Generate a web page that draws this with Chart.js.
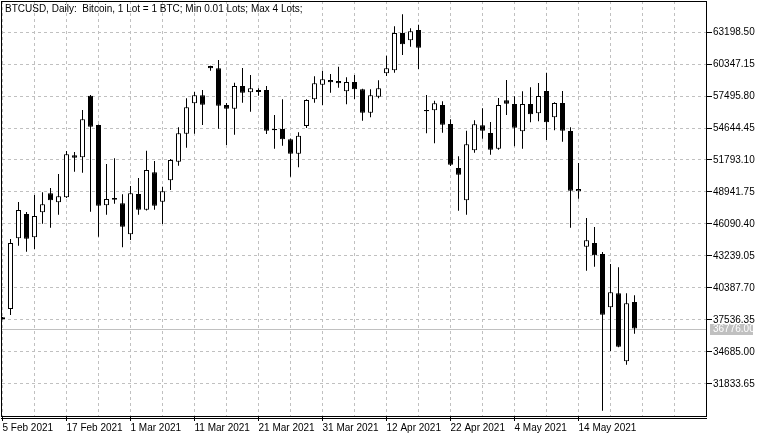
<!DOCTYPE html>
<html>
<head>
<meta charset="utf-8">
<script src="https://cdn.jsdelivr.net/npm/chart.js@4.4.1/dist/chart.umd.min.js"></script>
<style>
    html, body { margin: 0; padding: 0; background: #fff; }
</style>
</head>
<body>
<canvas id="btcChart" width="765" height="439"></canvas>
<script>
// BTCUSD daily candles
const dateLabels = ['5 Feb 2021', '17 Feb 2021', '1 Mar 2021', '11 Mar 2021', '21 Mar 2021',
    '31 Mar 2021', '12 Apr 2021', '22 Apr 2021', '4 May 2021', '14 May 2021'];

const opens = [37600, 38518, 44817, 46983, 44907, 47134, 48827, 48025, 48471, 52213,
    52035, 57523, 54912, 47758, 48408, 47936, 45174, 48765, 47366, 50698,
    48079, 49985, 51643, 54137, 56846, 57559, 60169, 59964, 56694, 56365,
    58387, 57826, 57853, 58031, 54556, 54556, 53638, 52355, 54823, 57202,
    58503, 58922, 58833, 57915, 58744, 58093, 56008, 57434, 59519, 59786,
    63110, 62459, 63377, 56249, 56222, 56694, 55002, 51081, 48203, 52658,
    54886, 54200, 52801, 57113, 56784, 54351, 56784, 55955, 57942, 55599,
    56873, 54378, 49005, 44069, 44399, 43419, 38670, 39917, 33858, 39142];
const highs = [37800, 44755, 48052, 47161, 48675, 48916, 49299, 50547, 52596, 52507,
    56249, 57586, 54950, 51438, 51945, 48738, 49477, 50190, 52623, 51705,
    49415, 51883, 54708, 57291, 57853, 58031, 60200, 60704, 56873, 58681,
    59991, 59367, 58182, 58387, 55803, 57202, 53700, 54262, 57200, 59252,
    59751, 59457, 60107, 59163, 59367, 58150, 58093, 58895, 61087, 63707,
    64776, 63528, 63849, 57586, 57078, 57024, 55420, 52124, 54405, 55331,
    56400, 55180, 57318, 58922, 57469, 57915, 58272, 58655, 59572, 56950,
    57942, 54708, 51527, 46626, 45824, 43597, 42528, 42234, 39917, 39739];
const lows = [37580, 37984, 44158, 43624, 43864, 46118, 45762, 46920, 48400, 50752,
    50662, 47188, 44960, 46920, 47900, 44016, 44666, 46920, 47300, 47366,
    46092, 49121, 51286, 52890, 54137, 54912, 59751, 54583, 53130, 54048,
    56899, 56097, 57523, 54111, 52801, 53068, 50306, 51144, 54645, 56899,
    56694, 57790, 58236, 56757, 57229, 55296, 55599, 57291, 59278, 59572,
    61149, 61889, 59902, 54173, 53282, 54226, 51259, 47277, 46920, 52444,
    53692, 52266, 52712, 55803, 53015, 52801, 55153, 55242, 53576, 54440,
    53424, 45762, 48346, 41931, 42287, 29457, 34776, 35100, 33555, 36317];
const closes = [37780, 44399, 47339, 44782, 46804, 47847, 48203, 48560, 52302, 51999,
    55420, 54761, 47722, 48319, 48257, 45851, 48827, 47366, 50903, 47722,
    49005, 51794, 54173, 56490, 57559, 56721, 59964, 56632, 56365, 58387,
    57790, 58182, 58031, 54404, 54440, 53638, 52355, 53959, 57140, 58628,
    58984, 58717, 58628, 58744, 58093, 56008, 57559, 58182, 59964, 63110,
    62103, 63261, 61800, 56133, 56846, 54939, 51375, 50484, 53193, 54975,
    54404, 52712, 56694, 56810, 54672, 56784, 55866, 57496, 55153, 56873,
    54404, 49058, 49210, 44639, 43303, 38010, 40006, 35159, 39026, 36776];

const priceTicks = [31833.65, 34685.00, 37536.35, 40387.70, 43239.05, 46090.40,
    48941.75, 51793.10, 54644.45, 57495.80, 60347.15, 63198.50];
const lastPrice = 36776.00;
const headerText = 'BTCUSD, Daily:  Bitcoin, 1 Lot = 1 BTC; Min 0.01 Lots; Max 4 Lots;';

const FONT = 'Liberation Sans';

const bodies = opens.map((o, i) => ({ x: i, y: [o, closes[i]] }));
const wicks = lows.map((l, i) => ({ x: i, y: [l, highs[i]] }));
const bodyColors = opens.map((o, i) => closes[i] >= o ? '#ffffff' : '#000000');

// frame, header, current price line and its label
const terminalLook = {
    id: 'terminalLook',
    beforeDatasetsDraw(chart) {
        const c = chart.ctx;
        const a = chart.chartArea;
        const y = Math.round(chart.scales.y.getPixelForValue(lastPrice)) + 0.5;
        c.save();
        c.strokeStyle = '#c0c0c0';
        c.lineWidth = 1;
        c.beginPath();
        c.moveTo(a.left, y);
        c.lineTo(a.right, y);
        c.stroke();
        c.restore();
    },
    afterDraw(chart) {
        const c = chart.ctx;
        const a = chart.chartArea;
        c.save();
        c.strokeStyle = '#000';
        c.lineWidth = 1;
        c.strokeRect(a.left - 0.5, a.top + 0.5, a.right - a.left, a.bottom - a.top - 1);
        c.beginPath();
        c.moveTo(a.left - 1, a.bottom + 1.5);
        c.lineTo(a.right, a.bottom + 1.5);
        c.stroke();

        c.fillStyle = '#000';
        c.font = '10px "' + FONT + '"';
        c.textBaseline = 'alphabetic';
        c.textAlign = 'left';
        c.fillText(headerText, a.left + 3, a.top + 11);

        const y = Math.round(chart.scales.y.getPixelForValue(lastPrice));
        c.fillStyle = '#c0c0c0';
        c.fillRect(a.right + 3, y - 5, 43, 11);
        c.fillStyle = '#ffffff';
        c.font = '10px "' + FONT + '"';
        c.textBaseline = 'middle';
        c.fillText(lastPrice.toFixed(2), a.right + 6, y + 0.5);
        c.restore();
    }
};

const ctx = document.getElementById('btcChart').getContext('2d');

new Chart(ctx, {
    type: 'bar',
    data: {
        datasets: [{
            label: 'Body',
            data: bodies,
            order: 0,
            grouped: false,
            barThickness: 5,
            borderWidth: 1,
            borderColor: '#000',
            borderSkipped: false,
            backgroundColor: bodyColors,
            inflateAmount: 0
        }, {
            label: 'Wick',
            data: wicks,
            order: 1,
            grouped: false,
            barThickness: 1,
            borderWidth: 0,
            backgroundColor: '#000',
            inflateAmount: 0
        }]
    },
    options: {
        responsive: false,
        animation: false,
        devicePixelRatio: 1,
        layout: { padding: { left: 2, top: 1, right: 0, bottom: 0 } },
        plugins: {
            legend: { display: false },
            tooltip: { enabled: false }
        },
        scales: {
            x: {
                type: 'linear',
                offset: false,
                min: -0.0625,
                max: 88.0625,
                afterBuildTicks: s => {
                    s.ticks = [];
                    for (let i = 0; i <= 88; i += 4) s.ticks.push({ value: i });
                },
                afterFit: s => {
                    s.height = 22;
                    s.paddingLeft = 0;
                    s.paddingRight = 0;
                },
                grid: {
                    offset: false,
                    color: '#c0c0c0',
                    tickLength: 4,
                    tickColor: c => (c.tick && c.tick.value % 8 === 0 && c.tick.value <= 72) ? '#000' : 'rgba(0,0,0,0)'
                },
                border: { display: false, dash: [3, 3] },
                ticks: {
                    align: 'start',
                    autoSkip: false,
                    minRotation: 0,
                    maxRotation: 0,
                    padding: 1,
                    color: '#000',
                    font: { family: FONT, size: 10 },
                    callback: v => (v % 8 === 0 && dateLabels[v / 8]) ? dateLabels[v / 8] : ''
                }
            },
            y: {
                position: 'right',
                min: 28893.1,
                max: 65960.8,
                afterBuildTicks: s => {
                    s.ticks = priceTicks.map(v => ({ value: v }));
                },
                afterFit: s => {
                    s.width = 58;
                    s.paddingTop = 0;
                    s.paddingBottom = 0;
                },
                grid: {
                    color: '#c0c0c0',
                    tickLength: 5,
                    tickColor: '#000'
                },
                border: { display: false, dash: [3, 3] },
                ticks: {
                    padding: 1,
                    color: '#000',
                    font: { family: FONT, size: 10 },
                    callback: v => Number(v).toFixed(2)
                }
            }
        }
    },
    plugins: [terminalLook]
});
</script>
</body>
</html>
